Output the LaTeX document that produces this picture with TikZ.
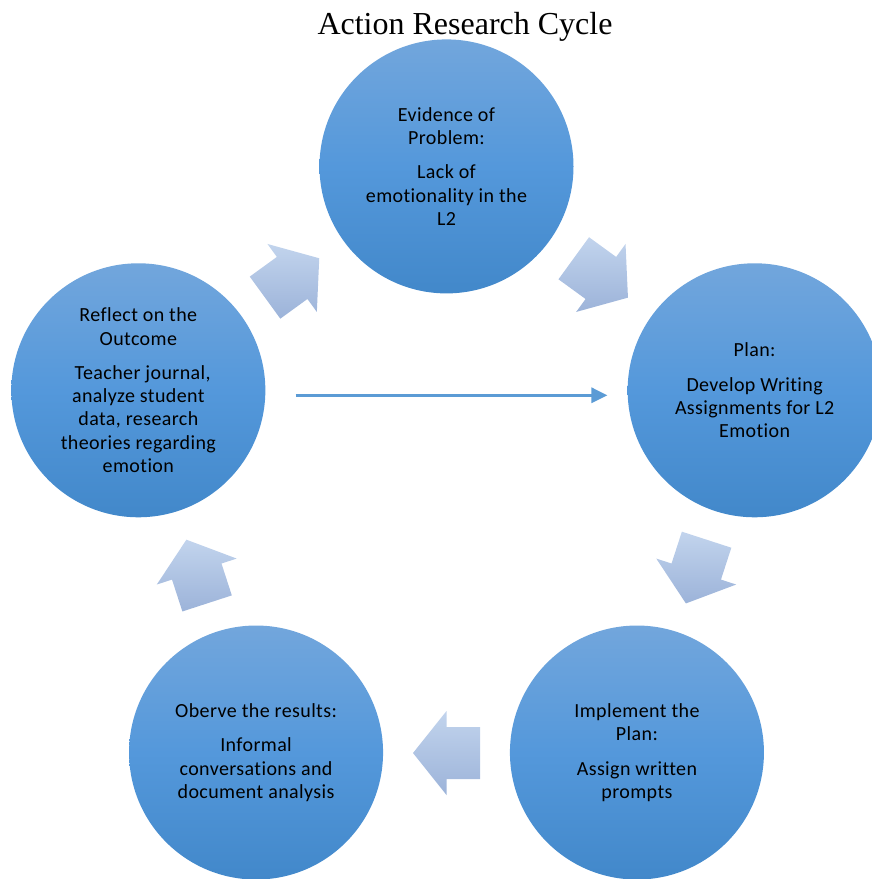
\documentclass[tikz,border=0pt]{standalone}
\usepackage{fontspec}
\setmainfont{Carlito}[LetterSpace=2,Ligatures={NoCommon}]
\newfontfamily\titlefont{Liberation Serif}
\usetikzlibrary{calc,arrows.meta}
\definecolor{circtop}{RGB}{114,166,220}
\definecolor{circmid}{RGB}{84,152,219}
\definecolor{circbot}{RGB}{66,136,202}
\definecolor{arrtop}{RGB}{194,212,237}
\definecolor{arrbot}{RGB}{156,179,217}
\definecolor{linecol}{RGB}{91,155,213}
\tikzset{
  circ/.style={circle, minimum size=254pt, inner sep=0pt, align=center,
    top color=circtop, bottom color=circbot, middle color=circmid,
    font=\fontsize{20}{23.3}\selectfont, text=black},
  arrowfill/.style={top color=arrtop, bottom color=arrbot},
  thinline/.style={draw=linecol, line width=3pt, -{Triangle[length=16pt,width=15pt]}}
}
\newcommand\blockarr[2]{%
  \shade[arrowfill] ($(#1)+(#2:-33.5)+(#2+90:-26)$) -- ($(#1)+(#2+90:-26)$)
    -- ($(#1)+(#2+90:-42)$) -- ($(#1)+(#2:33.5)$) -- ($(#1)+(#2+90:42)$)
    -- ($(#1)+(#2+90:26)$) -- ($(#1)+(#2:-33.5)+(#2+90:26)$) -- cycle;}
\begin{document}
\begin{tikzpicture}[x=1pt,y=-1pt]
\useasboundingbox (0,0) rectangle (872,879);
\coordinate (C) at (446.5,490.4);
\node[font=\titlefont\fontsize{32}{36}\selectfont, anchor=base] (title) at (465,34) {Action Research Cycle};
\node[circ] (top) at ($(C)+(270:324)$) {Evidence of\\Problem:\\[11pt]Lack of\\emotionality in the\\L2};
\node[circ] (right) at ($(C)+(342:324)$) {Plan:\\[11pt]Develop Writing\\Assignments for L2\\Emotion};
\node[circ] (br) at ($(C)+(54:324)$) {Implement the\\Plan:\\[11pt]Assign written\\prompts};
\node[circ] (bl) at ($(C)+(126:324)$) {Oberve the results:\\[11pt]Informal\\conversations and\\document analysis};
\node[circ] (left) at ($(C)+(198:324)$) {Reflect on the\\Outcome\\[11pt]\hphantom{x}Teacher journal,\\analyze student\\data, research\\theories regarding\\emotion};
\coordinate (a1) at ($(C)+(306:262.6)$);
\coordinate (a2) at ($(C)+(18:262.6)$);
\coordinate (a3) at ($(C)+(90:262.6)$);
\coordinate (a4) at ($(C)+(162:262.6)$);
\coordinate (a5) at ($(C)+(234:262.6)$);
\blockarr{a1}{36}
\blockarr{a2}{108}
\blockarr{a3}{180}
\blockarr{a4}{252}
\blockarr{a5}{324}
\draw[thinline, shorten <=30pt, shorten >=20pt] ([yshift=-5pt]left.east) -- ([yshift=-5pt]right.west);
\end{tikzpicture}
\end{document}
